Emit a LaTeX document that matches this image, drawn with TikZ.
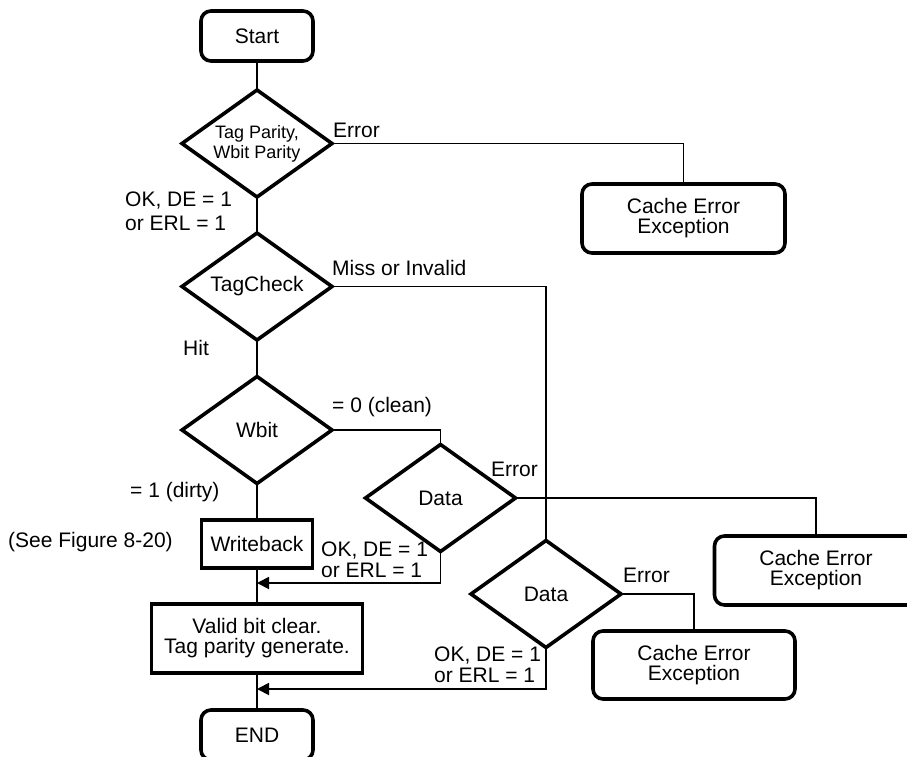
\documentclass[tikz,border=0pt]{standalone}
\usepackage{fontspec}
\setmainfont{Liberation Sans}
\usetikzlibrary{arrows.meta, shapes.geometric, positioning}
\tikzset{
  >={Triangle[length=12pt,width=12pt]},
  % Nodi del diagramma
  base/.style={draw=black,line width=3.6pt,font=\fontsize{21}{20}\selectfont,align=center,inner sep=0pt,outer sep=0pt},
  terminal/.style={base,rounded corners=10pt,minimum width=112pt,minimum height=50pt},
  exception/.style={base,rounded corners=10pt,minimum width=203pt,minimum height=69pt},
  process/.style={base,minimum height=48pt},
  decision/.style={base,diamond,aspect=1.4,inner sep=-2pt,minimum width=150pt,minimum height=107pt},
  % Connessioni
  connect/.style={line width=1.8pt,black},
  connect arrow/.style={connect,->},
  % Etichette
  lbl/.style={font=\fontsize{21}{21}\selectfont,align=left,inner sep=0pt,anchor=base west},
  lbl two/.style={lbl,anchor=north west}
}

\begin{document}
\begin{tikzpicture}[x=1pt,y=-1pt]
  \useasboundingbox (0,0) rectangle (907,757);
  \node[terminal] (start) at (257,36) {Start};
  \node[decision,font=\fontsize{18}{20}\selectfont] (tagpar) at (257,143.5) {Tag Parity,\\Wbit Parity};
  \node[exception] (cerr1) at (683.5,218.5) {Cache Error\\Exception};
  \node[decision] (tagchk) at (257,286.5) {TagCheck};
  \node[decision] (wbit) at (257,430) {Wbit};
  \node[decision] (data1) at (440.5,498) {Data};
  \node[exception] (cerr2) at (816,570.5) {Cache Error\\Exception};
  \node[process,minimum width=111pt] (wrback) at (257,544) {Writeback};
  \node[decision] (data2) at (546,594) {Data};
  \node[exception,minimum width=202pt,minimum height=68pt] (cerr3) at (694,665) {Cache Error\\Exception};
  \node[process,minimum width=211pt,minimum height=69pt] (valid) at (257,638.5) {Valid bit clear.\\Tag parity generate.};
  \node[terminal] (endn) at (257,735) {END};
  \coordinate (mrg1) at (257,583);
  \coordinate (mrg2) at (257,689);

  \node[lbl] (lerr1) at (333,138) {Error};
  \node[lbl two] (lok0) at (125,191.7) {OK, DE = 1\\[3pt]or ERL = 1};
  \node[lbl] (lmiss) at (332,275) {Miss or Invalid};
  \node[lbl] (lhit) at (183,355) {Hit};
  \node[lbl] (lclean) at (332,412) {= 0 (clean)};
  \node[lbl] (lerr2) at (491,476) {Error};
  \node[lbl] (ldirty) at (130,497) {= 1 (dirty)};
  \node[lbl] (lsee) at (8,547) {(See Figure 8-20)};
  \node[lbl two] (lok1) at (321,541.7) {OK, DE = 1\\or ERL = 1};
  \node[lbl] (lerr3) at (623,582) {Error};
  \node[lbl two] (lok2) at (434,646.7) {OK, DE = 1\\or ERL = 1};

  \draw[connect] (start) -- (tagpar);
  \draw[connect] (tagpar.east) -| (cerr1.north);
  \draw[connect] (tagpar) -- (tagchk);
  \draw[connect] (tagchk.east) -| (data2.north);
  \draw[connect] (tagchk) -- (wbit);
  \draw[connect] (wbit.east) -| (data1.north);
  \draw[connect] (data1.east) -| (cerr2.north);
  \draw[connect] (wbit) -- (wrback);
  \draw[connect] (wrback) -- (valid);
  \draw[connect arrow] (data1.south) |- (mrg1);
  \draw[connect] (data2.east) -| (cerr3.north);
  \draw[connect] (valid) -- (endn);
  \draw[connect arrow] (data2.south) |- (mrg2);
\end{tikzpicture}
\end{document}
